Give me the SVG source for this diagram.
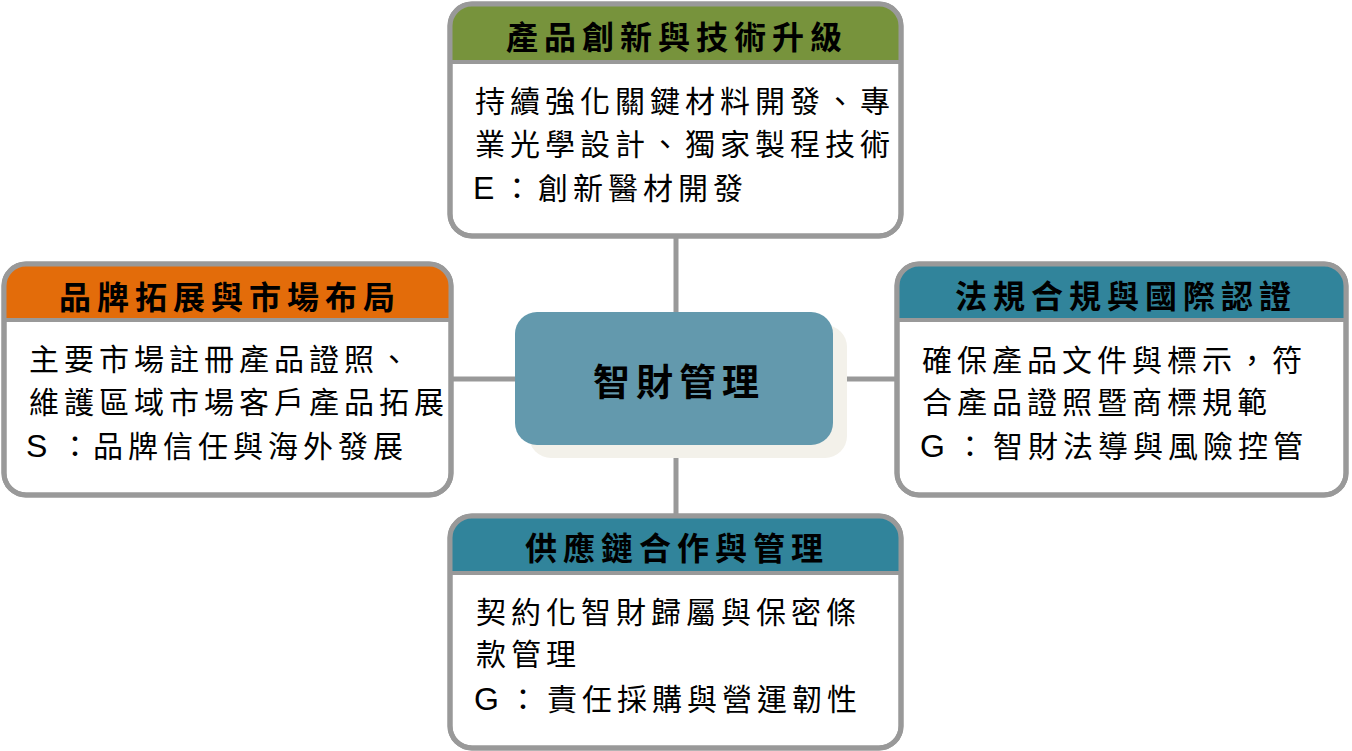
<svg xmlns="http://www.w3.org/2000/svg" width="1352" height="751" viewBox="0 0 1352 751">
<style>
.box{fill:#ffffff;stroke:#999999;stroke-width:5}
.frame{fill:none;stroke:#999999;stroke-width:5}
.sep{stroke:#999999;stroke-width:4}
.conn{stroke:#999999;stroke-width:5;fill:none}
.hd{font-family:"Noto Sans CJK TC","Noto Sans CJK SC",sans-serif;font-size:32px;font-weight:bold;fill:#000;letter-spacing:6px;text-anchor:middle}
.bd{font-family:"Noto Sans CJK TC","Noto Sans CJK SC",sans-serif;font-size:30px;fill:#000;letter-spacing:5px}
.lat{font-family:"Liberation Sans",Arial,sans-serif;font-size:32px;letter-spacing:0}
.ctr{font-family:"Noto Sans CJK TC","Noto Sans CJK SC",sans-serif;font-size:37px;font-weight:bold;fill:#000;letter-spacing:6px;text-anchor:middle}
</style>
<rect width="1352" height="751" fill="#ffffff"/>
<g id="connectors">
<line class="conn" x1="676" y1="236" x2="676" y2="314"/>
<line class="conn" x1="676" y1="443" x2="676" y2="516"/>
<line class="conn" x1="451" y1="379" x2="517" y2="379"/>
<line class="conn" x1="831" y1="379" x2="897" y2="379"/>
</g>
<g id="node-center">
<rect x="529" y="325" width="318" height="133" rx="22" fill="#f3f1ea"/>
<rect x="515" y="312" width="318" height="133" rx="22" fill="#6399ad"/>
<text class="ctr" x="679" y="396">智財管理</text>
</g>
<g id="node-top">
<rect class="box" x="450" y="4" width="451" height="232" rx="22"/>
<path d="M450,62 V26 A22,22 0 0 1 472,4 H879 A22,22 0 0 1 901,26 V62 Z" fill="#77933c"/>
<line class="sep" x1="450" y1="62" x2="901" y2="62"/>
<rect class="frame" x="450" y="4" width="451" height="232" rx="22"/>
<text class="hd" x="677" y="49">產品創新與技術升級</text>
<text class="bd" x="475" y="112">持續強化關鍵材料開發、專</text>
<text class="bd" x="475" y="155">業光學設計、獨家製程技術</text>
<text class="bd" x="473" y="199"><tspan class="lat">E</tspan><tspan x="502">：</tspan><tspan x="538">創新醫材開發</tspan></text>
</g>
<g id="node-left">
<rect class="box" x="4" y="264" width="447" height="231" rx="22"/>
<path d="M4,320 V286 A22,22 0 0 1 26,264 H429 A22,22 0 0 1 451,286 V320 Z" fill="#e36c0a"/>
<line class="sep" x1="4" y1="320" x2="451" y2="320"/>
<rect class="frame" x="4" y="264" width="447" height="231" rx="22"/>
<text class="hd" x="230" y="309">品牌拓展與市場布局</text>
<text class="bd" x="29" y="370">主要市場註冊產品證照、</text>
<text class="bd" x="29" y="413">維護區域市場客戶產品拓展</text>
<text class="bd" x="26" y="457"><tspan class="lat">S</tspan><tspan x="60">：</tspan><tspan x="93">品牌信任與海外發展</tspan></text>
</g>
<g id="node-right">
<rect class="box" x="897" y="264" width="449" height="231" rx="22"/>
<path d="M897,320 V286 A22,22 0 0 1 919,264 H1324 A22,22 0 0 1 1346,286 V320 Z" fill="#31849b"/>
<line class="sep" x1="897" y1="320" x2="1346" y2="320"/>
<rect class="frame" x="897" y="264" width="449" height="231" rx="22"/>
<text class="hd" x="1126" y="308">法規合規與國際認證</text>
<text class="bd" x="922" y="371">確保產品文件與標示，符</text>
<text class="bd" x="922" y="413">合產品證照暨商標規範</text>
<text class="bd" x="920" y="457"><tspan class="lat">G</tspan><tspan x="955">：</tspan><tspan x="993">智財法導與風險控管</tspan></text>
</g>
<g id="node-bottom">
<rect class="box" x="450" y="516" width="451" height="232" rx="22"/>
<path d="M450,573 V538 A22,22 0 0 1 472,516 H879 A22,22 0 0 1 901,538 V573 Z" fill="#31849b"/>
<line class="sep" x1="450" y1="573" x2="901" y2="573"/>
<rect class="frame" x="450" y="516" width="451" height="232" rx="22"/>
<text class="hd" x="677" y="560">供應鏈合作與管理</text>
<text class="bd" x="476" y="623">契約化智財歸屬與保密條</text>
<text class="bd" x="476" y="665">款管理</text>
<text class="bd" x="474" y="710"><tspan class="lat">G</tspan><tspan x="508">：</tspan><tspan x="547">責任採購與營運韌性</tspan></text>
</g>
</svg>
